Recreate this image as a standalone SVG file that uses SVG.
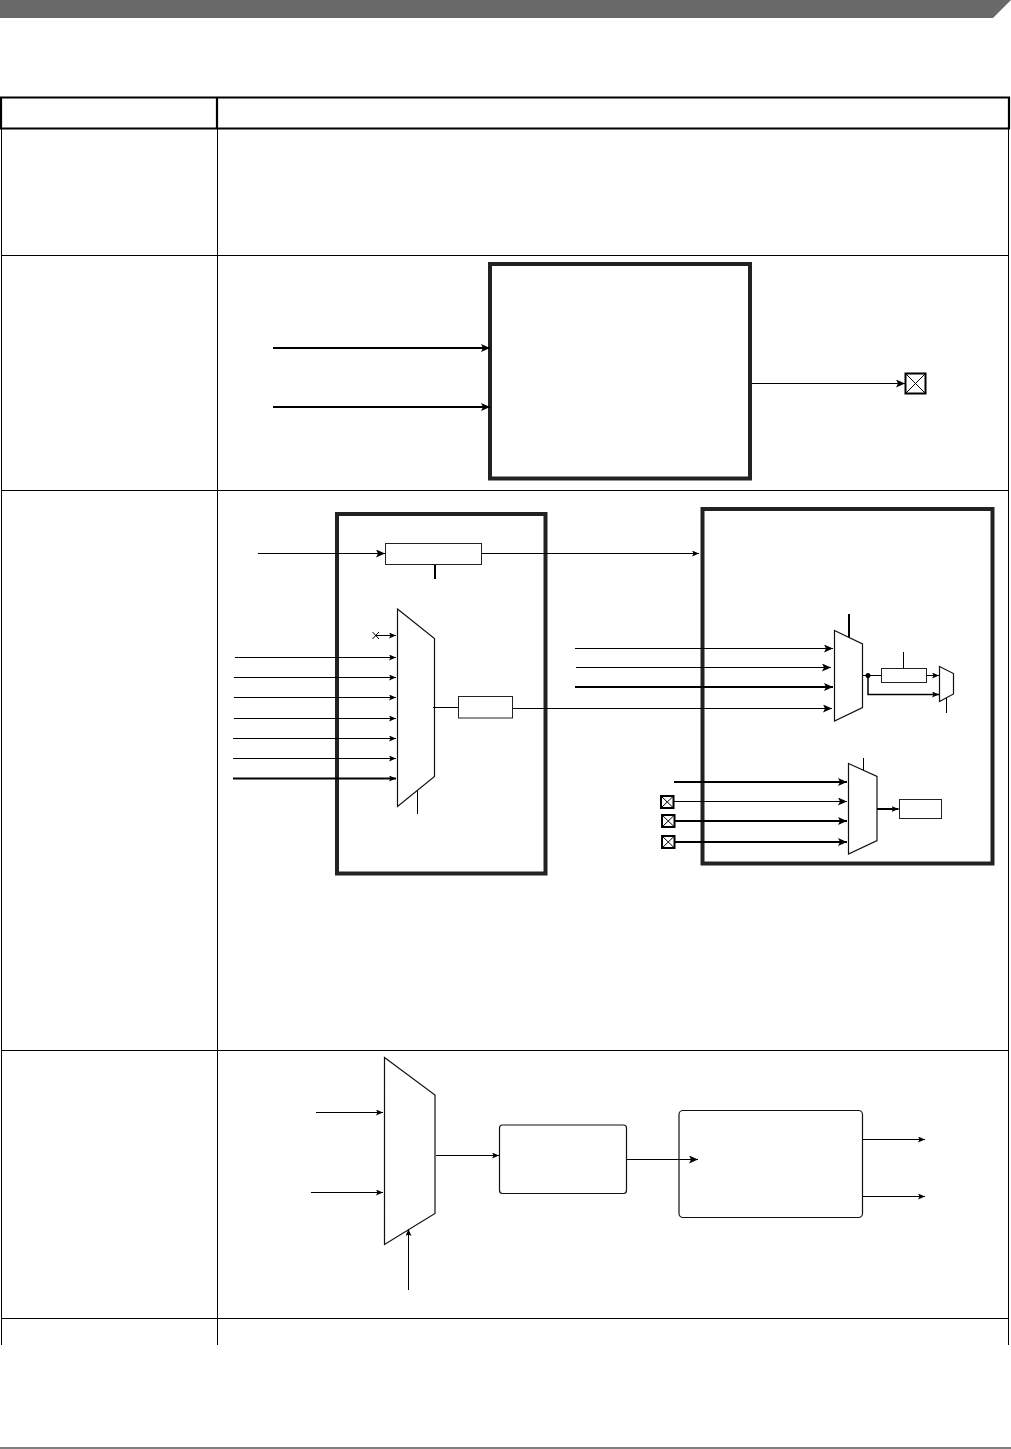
<svg xmlns="http://www.w3.org/2000/svg" width="1011" height="1449" viewBox="0 0 1011 1449">
<style>
.t1{stroke:#000;stroke-width:1;fill:none}
.hd{stroke:#000;stroke-width:2.2;fill:none}
.blk{stroke:#222;stroke-width:4;fill:none}
.box{stroke:#222;stroke-width:1;fill:#fff}
.mux{stroke:#111;stroke-width:1.2;fill:#fff;stroke-linejoin:miter}
.xb{stroke:#000;stroke-width:2;fill:#fff}
.a{marker-end:url(#ah)}
.b{marker-end:url(#ah2)}
.c1{stroke:#000;stroke-width:1;fill:none}
.c15{stroke:#000;stroke-width:1.5;fill:none}
.c2{stroke:#000;stroke-width:2;fill:none}
</style>
<defs>
<marker id="ah" markerUnits="userSpaceOnUse" markerWidth="8" markerHeight="6" refX="7" refY="3" orient="auto"><path d="M0,0 L7,3 L0,6 L1.5,3 Z" fill="#000"/></marker>
<marker id="ah2" markerUnits="userSpaceOnUse" markerWidth="10" markerHeight="8" refX="9" refY="4" orient="auto"><path d="M0,0 L9,4 L0,8 L2,4 Z" fill="#000"/></marker>
</defs>
<rect width="1011" height="1449" fill="#fff"/>
<g id="page">
<polygon points="0,0 1011,0 993,18 0,18" fill="#696969"/>
<line x1="0" y1="1448" x2="1011" y2="1448" class="t1"/>
</g>
<g id="table">
<line x1="0" y1="97.5" x2="1010" y2="97.5" class="hd"/>
<line x1="0" y1="128.5" x2="1010" y2="128.5" class="hd"/>
<line x1="1" y1="97" x2="1" y2="129" class="hd"/>
<line x1="217" y1="97" x2="217" y2="129" class="hd"/>
<line x1="1009" y1="97" x2="1009" y2="129" class="hd"/>
<line x1="1.5" y1="129" x2="1.5" y2="1345" class="t1"/>
<line x1="217.5" y1="129" x2="217.5" y2="1345" class="t1"/>
<line x1="1008.5" y1="129" x2="1008.5" y2="1345" class="t1"/>
<line x1="1" y1="255.5" x2="1009" y2="255.5" class="t1"/>
<line x1="1" y1="490.5" x2="1009" y2="490.5" class="t1"/>
<line x1="1" y1="1050.5" x2="1009" y2="1050.5" class="t1"/>
<line x1="1" y1="1318.5" x2="1009" y2="1318.5" class="t1"/>
</g>
<g id="block1"><rect x="490" y="264" width="260" height="214.5" class="blk"/></g>
<g id="pad1"><rect x="905.5" y="373.5" width="20" height="20" class="xb"/><path d="M905.5,373.5 L925.5,393.5 M925.5,373.5 L905.5,393.5" class="t1"/></g>
<g id="block2"><rect x="337" y="514" width="208.5" height="359.5" class="blk"/></g>
<g id="reg1"><rect x="385.5" y="543.5" width="96" height="21" class="box"/></g>
<g id="mux1"><polygon points="397.5,609 434.5,638.5 434.5,776.5 397.5,806.5" class="mux"/></g>
<g id="reg2"><rect x="458.5" y="696.5" width="54" height="21.5" class="box"/></g>
<g id="block3"><rect x="702.5" y="509" width="290" height="354.5" class="blk"/></g>
<g id="mux2"><polygon points="834.5,630.5 862.5,644 862.5,707.5 834.5,721" class="mux"/></g>
<g id="reg3"><rect x="881.5" y="668.5" width="45" height="14" class="box"/></g>
<g id="mux3"><polygon points="939.5,666.5 953.5,673.5 953.5,694 939.5,701.5" class="mux"/></g>
<g id="mux4"><polygon points="848.5,763.5 877,776.5 877,840.5 848.5,854" class="mux"/></g>
<g id="reg4"><rect x="899.5" y="799.5" width="42" height="19" class="box"/></g>
<g id="pad2"><rect x="661" y="796" width="12.5" height="12" class="xb"/><path d="M661,796 L673.5,808 M673.5,796 L661,808" class="t1"/></g>
<g id="pad3"><rect x="662" y="815" width="12.5" height="12" class="xb"/><path d="M662,815 L674.5,827 M674.5,815 L662,827" class="t1"/></g>
<g id="pad4"><rect x="662" y="836" width="12.5" height="12" class="xb"/><path d="M662,836 L674.5,848 M674.5,836 L662,848" class="t1"/></g>
<g id="cross1"><path d="M372.5,632 L379,639 M379,632 L372.5,639" class="c1"/></g>
<g id="mux5"><polygon points="384.5,1057.5 435,1095 435,1213.5 384.5,1244.5" class="mux"/></g>
<g id="box5"><rect x="499.5" y="1125" width="127" height="68.5" rx="3" class="mux"/></g>
<g id="box6"><rect x="679" y="1110.5" width="183.5" height="107" rx="4" class="mux"/></g>
<g id="connectors">
<path class="c2 b" d="M273,348 H490"/>
<path class="c2 b" d="M273,407 H490"/>
<path class="c1 b" d="M752,383.5 H905"/>
<path class="c1 b" d="M258,553.5 H385"/>
<path class="c1 a" d="M482,553.5 H699"/>
<path class="c2" d="M435,565 V579"/>
<path class="c1 a" d="M376,635.5 H396"/>
<path class="c1 a" d="M235,657.5 H396"/>
<path class="c1 a" d="M234,677.5 H396"/>
<path class="c1 a" d="M234,697.5 H396"/>
<path class="c1 a" d="M234,718.5 H396"/>
<path class="c1 a" d="M233,738.5 H396"/>
<path class="c1 a" d="M233,758.5 H396"/>
<path class="c2 a" d="M233,778.5 H396"/>
<path class="c1" d="M433,707.5 H458"/>
<path class="c1" d="M417.5,791 V814"/>
<path class="c1 b" d="M513,708.5 H832"/>
<path class="c1 b" d="M575,648.5 H833"/>
<path class="c1 b" d="M576,667.5 H831"/>
<path class="c2 b" d="M575,687 H833"/>
<path class="c2" d="M849,614 V637"/>
<path class="c1" d="M863,675.5 H881"/>
<circle cx="868" cy="675.5" r="2.5" fill="#000"/>
<path class="c1 a" d="M927,675.5 H939"/>
<path class="c15 a" d="M868,676 V694.5 H939"/>
<path class="c1" d="M903.5,652 V668"/>
<path class="c1" d="M946.5,698 V713"/>
<path class="c1" d="M863.5,758 V770"/>
<path class="c2 b" d="M674,782 H847"/>
<path class="c1 b" d="M674,801.5 H847"/>
<path class="c2 b" d="M675,821 H847"/>
<path class="c2 b" d="M675,842 H847"/>
<path class="c2 a" d="M877,809 H898.5"/>
<path class="c1 a" d="M316,1112.5 H383"/>
<path class="c1 a" d="M311,1192.5 H383"/>
<path class="c1 a" d="M436,1155.5 H499"/>
<path class="c1 b" d="M627,1159.5 H698"/>
<path class="c1 a" d="M862.5,1139.5 H925"/>
<path class="c1 a" d="M862.5,1196.5 H925"/>
<path class="c1 a" d="M408.5,1290 V1229"/>
</g>
</svg>
